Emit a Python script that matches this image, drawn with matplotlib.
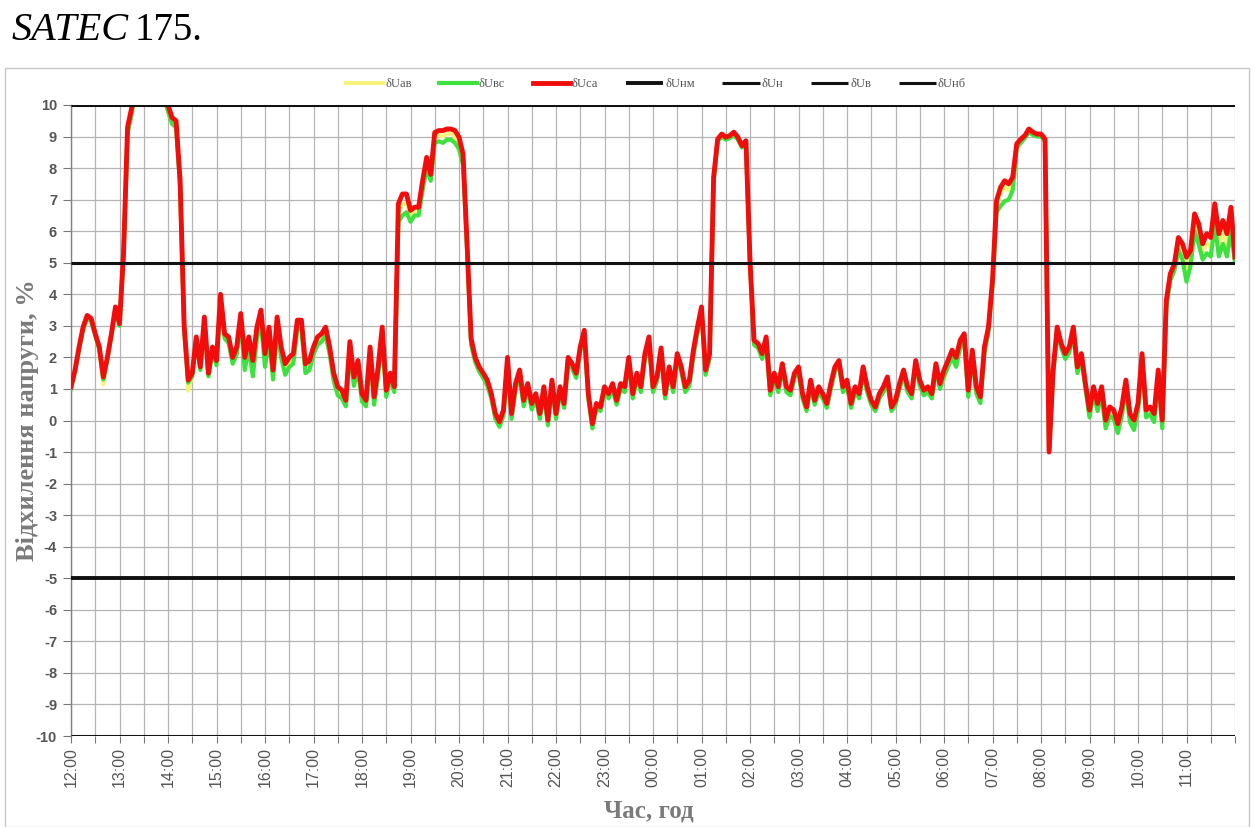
import numpy as np
import matplotlib
matplotlib.use("Agg")
import matplotlib.pyplot as plt
from matplotlib.patches import Rectangle
from matplotlib.ticker import FixedLocator

plt.rcParams['axes.unicode_minus'] = False

# ---- data -----------------------------------------------------------------
# 5-minute samples over one day, starting at 12:00
minutes = np.arange(0, 24 * 60 + 1, 5)

# phase C-A voltage deviation, %
u_ca = [
    1.07, 1.6, 2.33, 2.96, 3.33, 3.23, 2.75, 2.33, 1.38, 2.0, 2.75, 3.6,
    3.07, 5.3, 9.3, 9.9, 10.8, 11.2, 11.6, 11.8, 11.6, 11.3, 10.9, 10.4,
    10.0, 9.6, 9.5, 7.6, 3.0, 1.28, 1.5, 2.65, 1.7, 3.28, 1.5, 2.33,
    1.9, 4.0, 2.75, 2.65, 2.0, 2.33, 3.39, 2.0, 2.65, 1.9, 2.96, 3.5,
    2.12, 2.96, 1.6, 3.28, 2.33, 1.8, 2.0, 2.12, 3.18, 3.18, 1.8, 1.9,
    2.33, 2.65, 2.75, 2.96, 2.33, 1.5, 1.07, 0.96, 0.64, 2.5, 1.38, 1.9,
    0.85, 0.64, 2.33, 0.75, 1.7, 2.96, 0.96, 1.5, 1.07, 6.87, 7.18, 7.18,
    6.66, 6.76, 6.76, 7.6, 8.34, 7.8, 9.13, 9.19, 9.19, 9.24, 9.24, 9.19,
    8.98, 8.45, 5.6, 2.6, 2.0, 1.7, 1.5, 1.28, 0.85, 0.22, -0.04, 0.33,
    2.0, 0.22, 1.17, 1.6, 0.64, 1.17, 0.54, 0.85, 0.22, 1.07, 0.01, 1.28,
    0.22, 1.07, 0.54, 2.0, 1.8, 1.5, 2.33, 2.86, 0.85, -0.1, 0.54, 0.43,
    1.07, 0.85, 1.17, 0.64, 1.17, 1.07, 2.0, 0.85, 1.5, 1.07, 2.12, 2.65,
    1.07, 1.4, 2.3, 0.85, 1.7, 1.07, 2.12, 1.7, 1.07, 1.28, 2.23, 2.96,
    3.6, 1.6, 2.12, 7.71, 8.92, 9.08, 8.98, 9.03, 9.14, 8.98, 8.71, 8.87,
    5.07, 2.54, 2.44, 2.12, 2.65, 0.96, 1.5, 1.07, 1.8, 1.07, 0.96, 1.5,
    1.7, 0.85, 0.43, 1.28, 0.64, 1.07, 0.85, 0.54, 1.17, 1.7, 1.9, 1.07,
    1.28, 0.54, 1.07, 0.85, 1.7, 1.07, 0.64, 0.43, 0.85, 1.07, 1.38, 0.43,
    0.64, 1.17, 1.6, 1.07, 0.85, 1.9, 1.28, 0.96, 1.07, 0.85, 1.8, 1.17,
    1.6, 1.9, 2.23, 2.0, 2.54, 2.75, 0.96, 2.23, 1.07, 0.75, 2.33, 2.96,
    4.44, 6.97, 7.39, 7.6, 7.5, 7.71, 8.77, 8.92, 9.03, 9.24, 9.14, 9.08,
    9.08, 8.92, -1.0, 1.6, 2.96, 2.44, 2.12, 2.33, 2.96, 1.7, 2.12, 1.17,
    0.33, 1.07, 0.54, 1.07, 0.01, 0.43, 0.33, -0.1, 0.43, 1.28, 0.22, 0.01,
    0.54, 2.12, 0.33, 0.43, 0.22, 1.6, 0.01, 3.8, 4.65, 4.96, 5.8, 5.6,
    5.18, 5.39, 6.55, 6.24, 5.6, 5.92, 5.8, 6.87, 5.92, 6.34, 5.92, 6.76,
    5.18,
]

# phase B-C voltage deviation, %
u_bc = [
    1.0, 1.55, 2.25, 2.9, 3.25, 3.15, 2.7, 2.25, 1.3, 1.95, 2.7, 3.5,
    3.0, 5.2, 9.1, 9.7, 10.5, 11.0, 11.4, 11.6, 11.4, 11.1, 10.7, 10.2,
    9.8, 9.4, 9.3, 7.4, 2.9, 1.2, 1.4, 2.55, 1.6, 3.1, 1.4, 2.2,
    1.75, 3.8, 2.6, 2.45, 1.8, 2.1, 3.1, 1.6, 2.3, 1.4, 2.6, 3.1,
    1.7, 2.6, 1.3, 2.9, 2.0, 1.45, 1.7, 1.8, 2.9, 2.9, 1.5, 1.6,
    2.1, 2.4, 2.5, 2.7, 2.1, 1.25, 0.8, 0.7, 0.45, 2.2, 1.1, 1.6,
    0.6, 0.45, 2.1, 0.5, 1.45, 2.7, 0.75, 1.3, 0.9, 6.3, 6.5, 6.6,
    6.3, 6.5, 6.5, 7.3, 8.0, 7.6, 8.8, 8.85, 8.8, 8.9, 8.9, 8.8,
    8.6, 8.1, 5.4, 2.4, 1.85, 1.55, 1.35, 1.1, 0.7, 0.05, -0.2, 0.15,
    1.8, 0.05, 1.0, 1.4, 0.45, 1.0, 0.35, 0.7, 0.05, 0.9, -0.15, 1.1,
    0.05, 0.9, 0.4, 1.85, 1.65, 1.35, 2.2, 2.7, 0.7, -0.25, 0.4, 0.3,
    0.9, 0.7, 1.0, 0.5, 1.0, 0.9, 1.85, 0.7, 1.35, 0.9, 1.95, 2.5,
    0.9, 1.25, 2.15, 0.7, 1.55, 0.9, 1.95, 1.55, 0.9, 1.1, 2.05, 2.8,
    3.45, 1.45, 1.95, 7.6, 8.85, 9.0, 8.9, 8.95, 9.05, 8.9, 8.65, 8.8,
    4.95, 2.4, 2.3, 1.95, 2.5, 0.8, 1.35, 0.9, 1.65, 0.9, 0.8, 1.35,
    1.55, 0.7, 0.3, 1.1, 0.5, 0.9, 0.7, 0.4, 1.0, 1.55, 1.75, 0.9,
    1.1, 0.4, 0.9, 0.7, 1.55, 0.9, 0.5, 0.3, 0.7, 0.9, 1.2, 0.3,
    0.5, 1.0, 1.45, 0.9, 0.7, 1.75, 1.1, 0.8, 0.9, 0.7, 1.65, 1.0,
    1.4, 1.7, 2.0, 1.7, 2.3, 2.55, 0.75, 2.0, 0.85, 0.55, 2.15, 2.8,
    4.3, 6.6, 6.8, 6.95, 7.0, 7.3, 8.65, 8.8, 8.95, 9.15, 9.05, 9.0,
    9.0, 8.85, -0.95, 1.45, 2.8, 2.3, 1.95, 2.15, 2.8, 1.5, 1.95, 1.0,
    0.1, 0.85, 0.3, 0.8, -0.25, 0.15, 0.05, -0.4, 0.15, 1.0, -0.05, -0.3,
    0.3, 1.9, 0.1, 0.2, -0.05, 1.35, -0.25, 3.6, 4.45, 4.75, 5.4, 5.1,
    4.4, 4.9, 6.0, 5.6, 5.1, 5.3, 5.2, 6.2, 5.2, 5.6, 5.2, 6.0,
    5.0,
]

# phase A-B voltage deviation, %
u_ab = [
    1.05, 1.58, 2.3, 2.93, 3.3, 3.2, 2.72, 2.3, 1.15, 1.98, 2.72, 3.55,
    3.03, 5.25, 9.2, 9.8, 10.6, 11.1, 11.5, 11.7, 11.5, 11.2, 10.8, 10.3,
    9.9, 9.5, 9.4, 7.5, 2.95, 0.95, 1.45, 2.6, 1.65, 3.2, 1.45, 2.3,
    1.85, 3.9, 2.7, 2.55, 1.9, 2.2, 3.25, 1.8, 2.5, 1.7, 2.8, 3.3,
    1.9, 2.8, 1.45, 3.1, 2.15, 1.6, 1.85, 1.95, 3.05, 3.05, 1.65, 1.75,
    2.2, 2.5, 2.6, 2.85, 2.2, 1.35, 0.9, 0.8, 0.55, 2.35, 1.25, 1.75,
    0.7, 0.55, 2.2, 0.6, 1.55, 2.85, 0.85, 1.4, 1.0, 6.6, 6.85, 6.9,
    6.5, 6.65, 6.65, 7.45, 8.2, 7.7, 9.0, 9.05, 9.0, 9.1, 9.1, 9.0,
    8.8, 8.3, 5.5, 2.5, 1.9, 1.6, 1.4, 1.2, 0.75, 0.12, -0.12, 0.25,
    1.9, 0.12, 1.1, 1.5, 0.55, 1.1, 0.45, 0.75, 0.12, 1.0, -0.08, 1.2,
    0.12, 1.0, 0.45, 1.9, 1.7, 1.4, 2.25, 2.8, 0.75, -0.15, 0.45, 0.35,
    1.0, 0.75, 1.1, 0.55, 1.1, 1.0, 1.9, 0.75, 1.4, 1.0, 2.05, 2.6,
    1.0, 1.3, 2.2, 0.75, 1.6, 1.0, 2.05, 1.6, 1.0, 1.2, 2.15, 2.9,
    3.5, 1.5, 2.05, 7.65, 8.9, 9.05, 8.95, 9.0, 9.1, 8.95, 8.7, 8.85,
    5.0, 2.5, 2.4, 2.05, 2.6, 0.9, 1.4, 1.0, 1.7, 1.0, 0.9, 1.4,
    1.6, 0.75, 0.35, 1.2, 0.55, 1.0, 0.75, 0.45, 1.1, 1.6, 1.8, 1.0,
    1.2, 0.45, 1.0, 0.75, 1.6, 1.0, 0.55, 0.35, 0.75, 1.0, 1.3, 0.35,
    0.55, 1.1, 1.5, 1.0, 0.75, 1.8, 1.2, 0.85, 1.0, 0.75, 1.7, 1.1,
    1.3, 1.8, 2.1, 1.85, 2.45, 2.65, 0.85, 2.1, 0.95, 0.65, 2.25, 2.9,
    4.4, 6.8, 7.2, 7.4, 7.3, 7.55, 8.7, 8.85, 9.0, 9.2, 9.1, 9.05,
    9.05, 8.9, -0.98, 1.5, 2.9, 2.4, 2.05, 2.25, 2.9, 1.6, 2.05, 1.1,
    0.2, 0.95, 0.4, 0.95, -0.1, 0.3, 0.2, -0.25, 0.3, 1.15, 0.1, -0.15,
    0.4, 2.0, 0.2, 0.3, 0.1, 1.45, -0.1, 3.7, 4.55, 4.85, 5.6, 5.35,
    4.8, 5.15, 6.3, 5.9, 5.35, 5.6, 5.5, 6.55, 5.55, 6.0, 5.55, 6.4,
    5.1,
]

# permissible deviation limits, %
limit_names = ["δUнм", "δUн", "δUв", "δUнб"]
limit_levels = [-5, -10, 10, 5]

hour_labels = ["12:00", "13:00", "14:00", "15:00", "16:00", "17:00",
               "18:00", "19:00", "20:00", "21:00", "22:00", "23:00",
               "00:00", "01:00", "02:00", "03:00", "04:00", "05:00",
               "06:00", "07:00", "08:00", "09:00", "10:00", "11:00"]
y_ticks = list(range(10, -11, -1))

# ---- figure -----------------------------------------------------------------
W, H = 1254, 827
fig = plt.figure(figsize=(W / 100, H / 100), dpi=100)
fig.patch.set_facecolor("white")

# light outer frame of the chart block
fig.patches.append(Rectangle((5 / W, 0 / H), 1244 / W, (827 - 68) / H,
                             transform=fig.transFigure, fill=False,
                             edgecolor="#c8c8c8", linewidth=1.0))

ax = fig.add_axes([71 / W, 1 - 736 / H, (1235 - 71) / W, (736 - 105) / H])
hours = minutes / 60.0

ax.plot(hours, u_ab, color="#f6f37a", lw=3.0, label="δUав", zorder=3)
ax.plot(hours, u_bc, color="#3ee23e", lw=3.0, label="δUвс", zorder=4)
ax.plot(hours, u_ca, color="#f20d0d", lw=3.5, label="δUса", zorder=5)

span = [hours[0], hours[-1]]
for name, lvl in zip(limit_names, limit_levels):
    ax.plot(span, [lvl, lvl], color="#111111",
            lw=2.8 if name == "δUнм" else 2.2, label=name, zorder=6,
            solid_capstyle="butt")

ax.set_xlim(0, 24)
ax.set_ylim(-10, 10)

# ticks and grid
ax.xaxis.set_major_locator(FixedLocator(np.arange(0, 24)))
ax.xaxis.set_minor_locator(FixedLocator(np.arange(0.5, 24.01, 0.5)))
ax.set_xticklabels(hour_labels, rotation=90, fontsize=11.5,
                   family="Liberation Sans", color="#555555")
ax.set_yticks(y_ticks)
ax.set_yticklabels([str(v) for v in y_ticks], fontsize=10.5,
                   family="Liberation Sans", fontweight="bold",
                   color="#555555")
ax.tick_params(axis="x", which="both", length=5, width=0.8,
               color="#777777", pad=3)
ax.tick_params(axis="y", length=6, width=0.8, color="#777777", pad=4)
ax.grid(True, which="both", axis="x", color="#b4b4b4", lw=0.9, zorder=0)
ax.grid(True, which="major", axis="y", color="#b4b4b4", lw=0.9, zorder=0)
ax.set_axisbelow(True)

for side in ("top", "right", "bottom"):
    ax.spines[side].set_visible(False)
ax.spines["left"].set_color("#808080")
ax.spines["left"].set_linewidth(1.0)

ax.set_ylabel("Відхилення напруги, %", family="Liberation Serif",
              fontweight="bold", fontsize=19, color="#7a7a7a")
ax.yaxis.set_label_coords(-32 / 1164, 0.5)
fig.text(649 / W, 1 - 811 / H, "Час, год", family="Liberation Serif",
         fontweight="bold", fontsize=18, color="#7a7a7a",
         ha="center", va="center")

# legend along the top edge
leg = fig.legend(loc="center", bbox_to_anchor=(656 / W, 1 - 84 / H),
                 ncol=7, frameon=False, handlelength=3.0,
                 handletextpad=0.15, columnspacing=2.2,
                 prop={"family": "Liberation Serif", "size": 9})
for txt in leg.get_texts():
    txt.set_color("#555555")

# heading
t1 = fig.text(12 / W, 1 - 40 / H, "SATEC", family="Liberation Serif",
              style="italic", fontsize=29, color="black",
              ha="left", va="baseline")
renderer = fig.canvas.get_renderer()
bb = t1.get_window_extent(renderer=renderer)
fig.text((bb.x1 + 5) / W, 1 - 40 / H, "175.", family="Liberation Serif",
         fontsize=28, color="black", ha="left", va="baseline")

fig.savefig("out.png", dpi=100)
